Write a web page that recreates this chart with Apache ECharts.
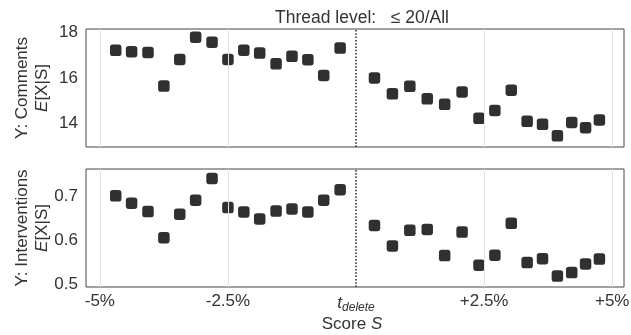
<!DOCTYPE html>
<html>
<head>
<meta charset="utf-8">
<script src="https://cdn.jsdelivr.net/npm/echarts@6/dist/echarts.min.js"></script>
<style>html,body{margin:0;padding:0;background:#fff}#c{width:631px;height:335px}</style>
</head>
<body>
<div id="c"></div>
<script>
const title = 'Thread level:   \u2264 20/All';
const xTickValues = [-5, -2.5, 0, 2.5, 5];
const xTickLabels = ['-5%', '-2.5%', 't_delete', '+2.5%', '+5%'];
const gridXValues = [-5, -2.5, 2.5, 5];
const deleteX = 0;
const commentTicks = [14, 16, 18];
const interventionTicks = [0.5, 0.6, 0.7];

const scoreX = [-4.69, -4.38, -4.06, -3.75, -3.44, -3.13, -2.81, -2.50, -2.19, -1.88, -1.56, -1.25, -0.94, -0.63, -0.31,
  0.36, 0.71, 1.05, 1.39, 1.73, 2.07, 2.40, 2.71, 3.03, 3.34, 3.64, 3.93, 4.21, 4.48, 4.75];
const comments = [17.21, 17.15, 17.12, 15.64, 16.81, 17.79, 17.57, 16.81, 17.22, 17.09, 16.62, 16.95, 16.80, 16.11, 17.31,
  16.00, 15.30, 15.63, 15.08, 14.84, 15.38, 14.22, 14.57, 15.46, 14.09, 13.96, 13.45, 14.04, 13.81, 14.15];
const interventions = [0.702, 0.685, 0.666, 0.606, 0.660, 0.692, 0.742, 0.675, 0.665, 0.649, 0.667, 0.672, 0.665, 0.692, 0.716,
  0.634, 0.587, 0.623, 0.625, 0.565, 0.619, 0.543, 0.566, 0.639, 0.549, 0.558, 0.518, 0.526, 0.546, 0.557];

const FONT = 'Liberation Sans';
const TXT = '#333';
const chart = echarts.init(document.getElementById('c'), null, {renderer: 'canvas'});

function xAxisCfg(idx, showLabels) {
  return {
    type: 'value', gridIndex: idx, min: -5.27, max: 5.23,
    axisLine: {show: false}, axisTick: {show: false}, splitLine: {show: false},
    axisLabel: {
      show: showLabels, customValues: xTickValues, margin: 6,
      color: TXT, fontFamily: FONT, fontSize: 17,
      formatter: function (v) {
        const i = xTickValues.indexOf(v);
        const s = i >= 0 ? xTickLabels[i] : '';
        if (s === 't_delete') return '{t|t}{s|delete}';
        return s;
      },
      rich: {
        t: {fontFamily: FONT, fontStyle: 'italic', fontSize: 17, color: TXT},
        s: {fontFamily: FONT, fontStyle: 'italic', fontSize: 12, color: TXT, padding: [9, 0, 0, 0]}
      }
    }
  };
}
function yAxisCfg(idx, min, max, ticks) {
  return {
    type: 'value', gridIndex: idx, min: min, max: max,
    axisLine: {show: false}, axisTick: {show: false}, splitLine: {show: false},
    axisLabel: {customValues: ticks, margin: 8, color: TXT, fontFamily: FONT, fontSize: 17,
      formatter: function (v) { return String(v); }}
  };
}
function pts(ys) { return scoreX.map(function (x, i) { return [x, ys[i]]; }); }
function guides(idx) {
  return {
    type: 'scatter', xAxisIndex: idx, yAxisIndex: idx, data: [], z: 1, silent: true,
    markLine: {
      silent: true, symbol: 'none', label: {show: false}, animation: false,
      data: gridXValues.map(function (v) { return {xAxis: v, lineStyle: {color: '#e6e2e2', width: 1, type: 'solid'}}; })
        .concat([{xAxis: deleteX, lineStyle: {color: '#222', width: 1.5, type: [1.5, 1.8]}}])
    }
  };
}
function marks(idx, ys) {
  return {
    type: 'scatter', xAxisIndex: idx, yAxisIndex: idx, data: pts(ys), z: 3,
    symbol: 'roundRect', symbolSize: 11.5, itemStyle: {color: '#303030', opacity: 1}
  };
}

chart.setOption({
  animation: false,
  backgroundColor: '#fff',
  title: {text: title, left: 357, top: 4, textAlign: 'center',
    textStyle: {fontFamily: FONT, fontSize: 17.5, fontWeight: 'normal', color: TXT}},
  grid: [
    {left: 86, top: 29, width: 538, height: 118, show: true, borderColor: '#444', borderWidth: 1, backgroundColor: 'transparent', outerBoundsMode: 'none'},
    {left: 86, top: 169, width: 538, height: 118, show: true, borderColor: '#444', borderWidth: 1, backgroundColor: 'transparent', outerBoundsMode: 'none'}
  ],
  xAxis: [xAxisCfg(0, false), xAxisCfg(1, true)],
  yAxis: [yAxisCfg(0, 12.96, 18.15, commentTicks), yAxisCfg(1, 0.493, 0.7635, interventionTicks)],
  series: [guides(0), guides(1), marks(0, comments), marks(1, interventions)],
  graphic: [
    {type: 'text', x: 22, y: 88, rotation: Math.PI / 2,
      style: {text: 'Y: Comments', font: '17px "Liberation Sans"', fill: TXT, align: 'center', verticalAlign: 'middle'}},
    {type: 'text', x: 42, y: 88, rotation: Math.PI / 2,
      style: {text: '{i|E}[X|S]', fill: TXT, align: 'center', verticalAlign: 'middle', fontFamily: FONT, fontSize: 17,
        rich: {i: {fontFamily: FONT, fontStyle: 'italic', fontSize: 17, fill: TXT}}}},
    {type: 'text', x: 22, y: 228, rotation: Math.PI / 2,
      style: {text: 'Y: Interventions', font: '17px "Liberation Sans"', fill: TXT, align: 'center', verticalAlign: 'middle'}},
    {type: 'text', x: 42, y: 228, rotation: Math.PI / 2,
      style: {text: '{i|E}[X|S]', fill: TXT, align: 'center', verticalAlign: 'middle', fontFamily: FONT, fontSize: 17,
        rich: {i: {fontFamily: FONT, fontStyle: 'italic', fontSize: 17, fill: TXT}}}},
    {type: 'text', x: 352, y: 324,
      style: {text: 'Score {i|S}', fill: TXT, align: 'center', verticalAlign: 'middle', fontFamily: FONT, fontSize: 17,
        rich: {i: {fontFamily: FONT, fontStyle: 'italic', fontSize: 17, fill: TXT}}}}
  ]
});
</script>
</body>
</html>
